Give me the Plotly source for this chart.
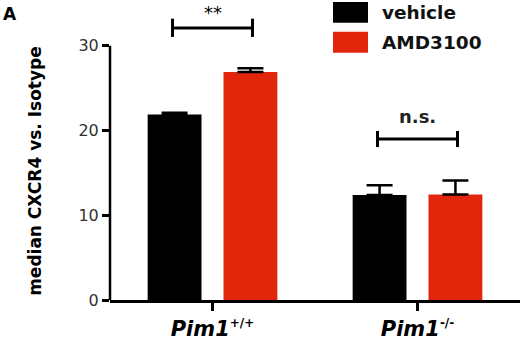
import plotly.graph_objects as go

# ---- data ----
groups = [0, 1]
group_labels = ["<b><i>Pim1</i><sup><span style='font-size:12px'>+/+</span></sup></b>",
                "<b><i>Pim1</i><sup><span style='font-size:12px'>-/-</span></sup></b>"]
series_names = ["vehicle", "AMD3100"]
vehicle = [21.9, 12.4]
vehicle_err = [0.2, 1.15]
amd3100 = [26.9, 12.45]
amd3100_err = [0.45, 1.65]
y_ticks = [0, 10, 20, 30]
sig_labels = ["**", "n.s."]

BLACK = "#000000"
RED = "#e1260c"
FONT = "DejaVu Sans, Liberation Sans, Arial"

W, H = 520, 341
L, R, T, B = 110, 0, 0, 39
PX_PER_UNIT = 8.53
Y_MAX = (H - B - T) / PX_PER_UNIT


def px(xp):
    return (xp - L) / (W - L - R)


def py(yp):
    return (H - B - yp) / (H - B - T)


fig = go.Figure()
for name, vals, errs, col in [(series_names[0], vehicle, vehicle_err, BLACK),
                              (series_names[1], amd3100, amd3100_err, RED)]:
    fig.add_trace(go.Bar(
        x=groups, y=vals, name=name, marker=dict(color=col, line=dict(width=0)),
        error_y=dict(type="data", array=errs, arrayminus=[0] * len(errs), symmetric=False,
                     color=BLACK, thickness=2.5, width=13),
        showlegend=False, hoverinfo="skip",
    ))

shapes = []
# y axis line from 0 to 30
shapes.append(dict(type="line", xref="paper", yref="y", x0=0, x1=0, y0=0, y1=max(y_ticks),
                   line=dict(color=BLACK, width=2.5)))
# significance brackets
for gi, (yh, ylo, yhi) in zip(groups, [(32.1, 31.05, 33.2), (19.0, 18.05, 19.95)]):
    x0, x1 = gi - 0.195, gi + 0.195
    shapes.append(dict(type="line", xref="x", yref="y", x0=x0, x1=x1, y0=yh, y1=yh,
                       line=dict(color=BLACK, width=3)))
    for xx in (x0, x1):
        shapes.append(dict(type="line", xref="x", yref="y", x0=xx, x1=xx, y0=ylo, y1=yhi,
                           line=dict(color=BLACK, width=3)))
# legend swatches
for (y0p, y1p), col in zip([(2, 23), (32, 53)], [BLACK, RED]):
    shapes.append(dict(type="rect", xref="paper", yref="paper", x0=px(333), x1=px(368),
                       y0=py(y1p), y1=py(y0p), fillcolor=col, line=dict(width=0)))

annotations = []
annotations.append(dict(text="<b>A</b>", xref="paper", yref="paper", x=px(1), y=py(14),
                        xanchor="left", yanchor="middle", showarrow=False,
                        font=dict(family=FONT, size=17, color=BLACK)))
annotations.append(dict(text="<b>median CXCR4 vs. Isotype</b>", xref="paper", yref="paper",
                        x=px(35), y=py(172), textangle=-90, xanchor="center", yanchor="middle",
                        showarrow=False, font=dict(family=FONT, size=17, color=BLACK)))
annotations.append(dict(text=sig_labels[0], xref="x", yref="paper", x=groups[0], y=1,
                        xanchor="center", yanchor="top", showarrow=False,
                        font=dict(family=FONT, size=18, color=BLACK)))
annotations.append(dict(text=f"<b>{sig_labels[1]}</b>", xref="x", yref="y", x=groups[1], y=21.6,
                        xanchor="center", yanchor="middle", showarrow=False,
                        font=dict(family=FONT, size=18, color="#222222")))
for name, yp in zip(series_names, [13, 43]):
    annotations.append(dict(text=f"<b>{name}</b>", xref="paper", yref="paper", x=px(380), y=py(yp),
                            xanchor="left", yanchor="middle", showarrow=False,
                            font=dict(family=FONT, size=18.5, color="#111111")))

fig.update_layout(
    width=W, height=H, margin=dict(l=L, r=R, t=T, b=B, pad=0),
    paper_bgcolor="white", plot_bgcolor="white",
    barmode="group", bargap=0.26, bargroupgap=0.29,
    shapes=shapes, annotations=annotations, hovermode=False,
    xaxis=dict(range=[-0.5, 1.5], tickvals=groups, ticktext=group_labels,
               showline=True, linecolor=BLACK, linewidth=2.5, ticks="outside",
               ticklen=8, tickwidth=2.5, tickcolor=BLACK, showgrid=False, zeroline=False,
               tickfont=dict(family=FONT, size=21, color=BLACK)),
    yaxis=dict(range=[0, Y_MAX], tickvals=y_ticks, showline=False, ticks="outside",
               ticklen=7, tickwidth=2.5, tickcolor=BLACK, showgrid=False, zeroline=False,
               tickfont=dict(family=FONT, size=16, color="#333333")),
)

fig.write_html("out.html", config={"displayModeBar": False},
               post_script="document.body.style.margin='0px';")
